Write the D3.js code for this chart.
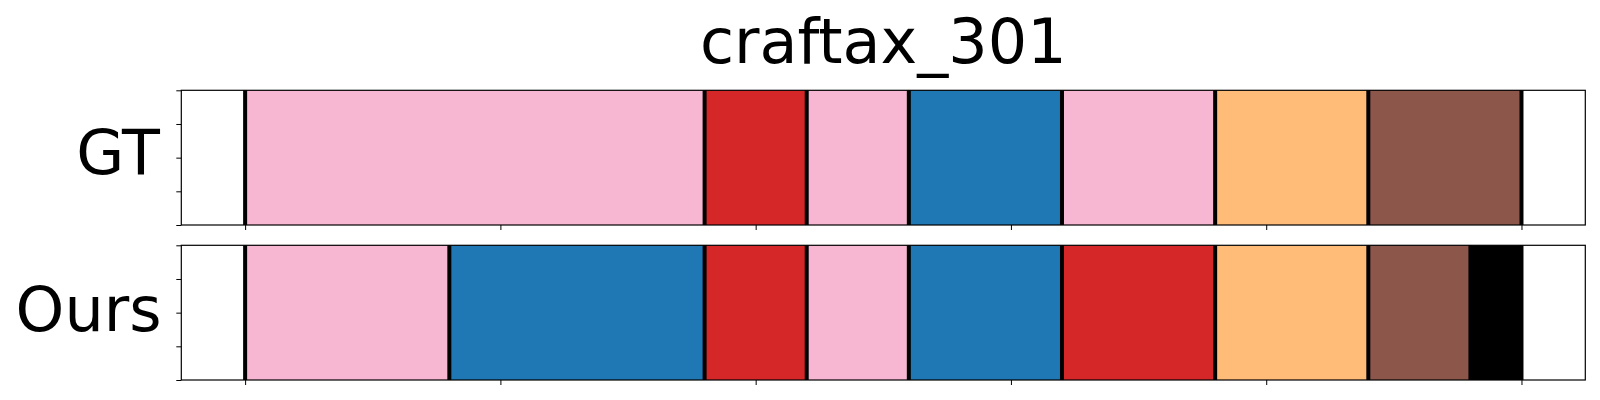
<!DOCTYPE html>
<html>
<head>
<meta charset="utf-8">
<script src="https://cdn.jsdelivr.net/npm/d3@7"></script>
<style>
  html, body { margin: 0; padding: 0; background: #fff; }
  svg { display: block; }
  text { font-family: "DejaVu Sans", sans-serif; fill: #000; }
</style>
</head>
<body>
<svg id="chart" width="1600" height="400"></svg>
<script>
// ---- data ----
const title = "craftax_301";
const rowNames = ["GT", "Ours"];
const gtBounds = [0, 90, 110, 130, 160, 190, 220, 250];
const gtClasses = ["k6", "k3", "k6", "k0", "k6", "k1", "k5"];
const oursBounds = [0, 40, 90, 110, 130, 160, 190, 220, 240, 250];
const oursClasses = ["k6", "k0", "k3", "k6", "k0", "k3", "k1", "k5", "k7"];
const xTicks = [0, 50, 100, 150, 200, 250];
const yTicks = [0, 0.25, 0.5, 0.75, 1];

// ---- style ----
const classColor = d3.scaleOrdinal()
  .domain(["k0", "k1", "k3", "k5", "k6", "k7"])
  .range(["#1f77b4", "#ffbb78", "#d62728", "#8c564b", "#f7b6d2", "#000000"]);

const svg = d3.select("#chart");
const left = 181.3, right = 1585.3;
const x = d3.scaleLinear().domain([-12.5, 262.5]).range([left, right]);

const rows = [
  { name: rowNames[0], bounds: gtBounds, classes: gtClasses, top: 90.3, bottom: 225, base: 174, lx: 160 },
  { name: rowNames[1], bounds: oursBounds, classes: oursClasses, top: 245.3, bottom: 380, base: 330.5, lx: 161.5 }
];

rows.forEach(r => {
  const y = d3.scaleLinear().domain([0, 1]).range([r.bottom, r.top]);
  const g = svg.append("g");
  const segs = r.classes.map((c, i) => ({ c, s: r.bounds[i], e: r.bounds[i + 1] }));
  g.selectAll("rect.seg").data(segs).enter().append("rect")
    .attr("class", "seg")
    .attr("x", d => x(d.s))
    .attr("width", d => x(d.e) - x(d.s))
    .attr("y", y(1))
    .attr("height", y(0) - y(1))
    .attr("fill", d => classColor(d.c));
  g.selectAll("line.bnd").data(r.bounds).enter().append("line")
    .attr("class", "bnd")
    .attr("x1", d => x(d)).attr("x2", d => x(d))
    .attr("y1", y(1)).attr("y2", y(0))
    .attr("stroke", "#000").attr("stroke-width", 4);
  // axes
  const ya = g.append("g").attr("transform", `translate(${left},0)`)
    .call(d3.axisLeft(y).tickValues(yTicks).tickSize(5).tickFormat(""));
  ya.select(".domain").remove();
  ya.selectAll("line").attr("stroke", "#000").attr("stroke-width", 1);
  const xa = g.append("g").attr("transform", `translate(0,${r.bottom})`)
    .call(d3.axisBottom(x).tickValues(xTicks).tickSize(5).tickFormat(""));
  xa.select(".domain").remove();
  xa.selectAll("line").attr("stroke", "#000").attr("stroke-width", 1);
  g.append("rect")
    .attr("x", left).attr("y", r.top)
    .attr("width", right - left).attr("height", r.bottom - r.top)
    .attr("fill", "none").attr("stroke", "#000").attr("stroke-width", 1.2);
  g.append("text")
    .attr("x", r.lx).attr("y", r.base)
    .attr("text-anchor", "end")
    .attr("font-size", 62)
    .text(r.name);
});

svg.append("text")
  .attr("x", (left + right) / 2).attr("y", 63)
  .attr("text-anchor", "middle")
  .attr("font-size", 62)
  .text(title);
</script>
</body>
</html>
